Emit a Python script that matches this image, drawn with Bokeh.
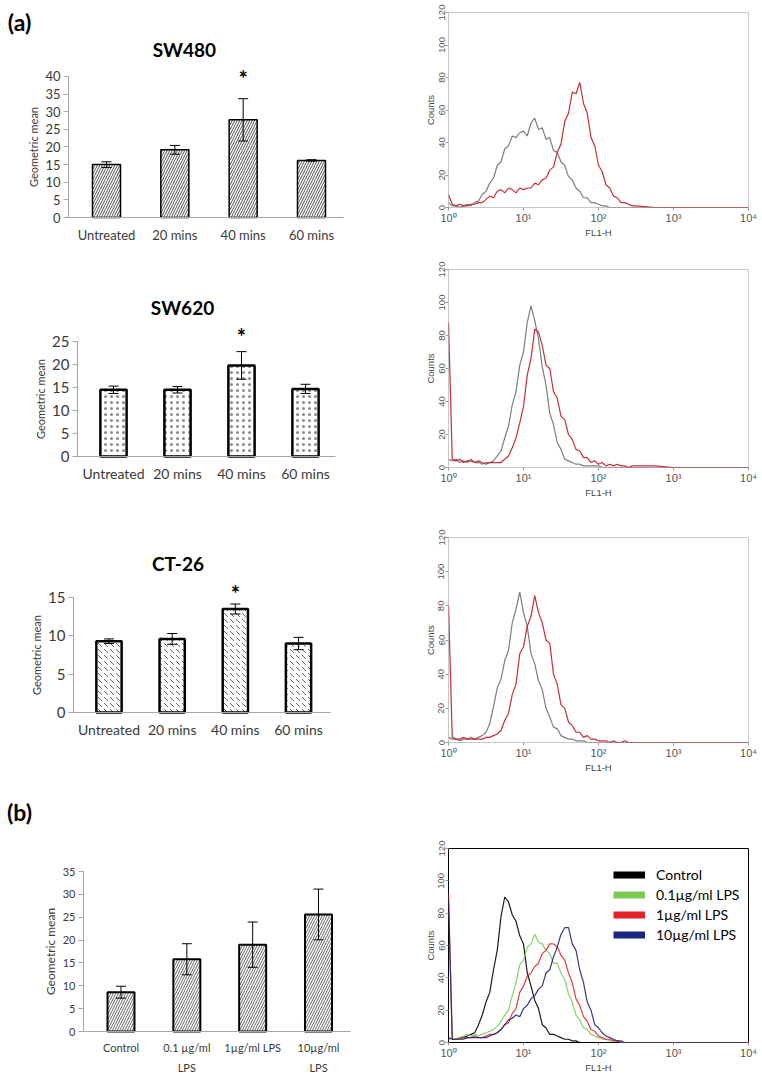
from bokeh.plotting import figure
from bokeh.models import Range1d, FixedTicker, ColumnDataSource, Whisker, TeeHead, Legend, LegendItem
from bokeh.layouts import row, column
from bokeh.embed import file_html
from bokeh.resources import INLINE
from bokeh.core.properties import value

# ---------------- data ----------------
TIME_CATS = ["Untreated", "20 mins", "40 mins", "60 mins"]
SW480_MEAN = [15.0, 19.2, 27.7, 16.2]
SW480_ERR = [0.8, 1.25, 6.0, 0.2]
SW620_MEAN = [14.5, 14.5, 19.8, 14.7]
SW620_ERR = [0.8, 0.7, 3.0, 1.0]
CT26_MEAN = [9.3, 9.6, 13.5, 9.0]
CT26_ERR = [0.3, 0.7, 0.65, 0.8]
LPS_CATS = ["Control", "0.1 µg/ml\nLPS", "1µg/ml LPS", "10µg/ml\nLPS"]
LPS_MEAN = [8.6, 15.8, 19.0, 25.6]
LPS_ERR = [1.3, 3.4, 4.95, 5.55]
SIG_IDX = 2  # "*" marks the 40 mins bar

# flow cytometry histograms: log10(FL1-H) channel positions and counts
FL1_LOG = [0.00, 0.05, 0.10, 0.15, 0.20, 0.25, 0.30, 0.35, 0.40, 0.45,
           0.50, 0.55, 0.60, 0.65, 0.70, 0.75, 0.80, 0.85, 0.90, 0.95,
           1.00, 1.05, 1.10, 1.15, 1.20, 1.25, 1.30, 1.35, 1.40, 1.45,
           1.50, 1.55, 1.60, 1.65, 1.70, 1.75, 1.80, 1.85, 1.90, 1.95,
           2.00, 2.05, 2.10, 2.15, 2.20, 2.25, 2.30, 2.35, 2.40, 2.45, 2.50,
           2.75, 3.00, 3.50, 4.00]
SW480_CTRL = [3, 1, 1, 0, 1, 2, 1, 3, 4, 8,
              10, 15, 18, 26, 28, 36, 38, 44, 43, 46,
              47, 44, 52, 55, 48, 49, 42, 43, 35, 34,
              28, 26, 19, 17, 12, 10, 6, 6, 3, 3,
              2, 1, 1, 0, 0, 0, 0, 0, 0, 0, 0,
              0, 0, 0, 0]
SW480_TREAT = [8, 2, 1, 2, 1, 1, 2, 2, 3, 3,
               5, 7, 6, 10, 11, 9, 12, 11, 9, 12,
               11, 12, 12, 15, 14, 17, 18, 23, 25, 34,
               39, 53, 58, 71, 70, 77, 64, 58, 43, 38,
               26, 22, 14, 12, 7, 6, 3, 3, 2, 1, 1,
               0, 0, 0, 0]
SW620_CTRL = [5, 4, 5, 3, 4, 3, 5, 3, 3, 2,
              3, 3, 4, 7, 10, 18, 25, 38, 46, 62,
              70, 88, 98, 89, 78, 61, 50, 33, 26, 15,
              11, 5, 4, 3, 2, 2, 1, 1, 1, 1,
              1, 0, 0, 0, 0, 0, 0, 0, 0, 0, 0,
              0, 0, 0, 0]
SW620_TREAT = [88, 5, 4, 5, 3, 4, 4, 3, 4, 3,
               2, 3, 3, 3, 3, 5, 7, 12, 18, 27,
               37, 56, 66, 84, 82, 74, 62, 60, 46, 42,
               31, 29, 20, 17, 11, 10, 6, 6, 3, 4,
               2, 3, 1, 2, 1, 2, 1, 1, 0, 1, 1,
               1, 0, 0, 0]
CT26_CTRL = [3, 2, 2, 1, 2, 2, 3, 2, 3, 4,
             6, 11, 21, 32, 37, 48, 54, 70, 78, 88,
             76, 68, 52, 46, 36, 31, 20, 15, 9, 8,
             4, 3, 2, 2, 1, 1, 1, 0, 0, 0,
             0, 0, 0, 0, 0, 0, 0, 0, 0, 0, 0,
             0, 0, 0, 0]
CT26_TREAT = [80, 3, 2, 2, 3, 2, 2, 2, 2, 2,
              3, 3, 4, 5, 7, 13, 17, 28, 34, 52,
              56, 68, 74, 86, 76, 70, 60, 58, 40, 34,
              22, 20, 12, 10, 6, 6, 3, 4, 2, 2,
              1, 1, 1, 0, 1, 0, 0, 1, 0, 0, 0,
              0, 0, 0, 0]
LPS_CTRL = [3, 2, 2, 3, 3, 4, 5, 6, 11, 17,
            25, 31, 45, 57, 78, 90, 87, 79, 75, 66,
            61, 43, 35, 26, 21, 11, 9, 5, 5, 4,
            3, 2, 2, 1, 1, 0, 0, 0, 0, 0,
            0, 0, 0, 0, 0, 0, 0, 0, 0, 0, 0,
            0, 0, 0, 0]
LPS_01 = [2, 2, 2, 3, 4, 5, 4, 5, 4, 5,
          6, 7, 8, 10, 13, 17, 20, 29, 37, 48,
          51, 59, 61, 67, 62, 61, 57, 55, 49, 49,
          43, 39, 30, 25, 17, 14, 9, 8, 5, 4,
          3, 2, 2, 1, 1, 1, 0, 0, 0, 0, 0,
          0, 0, 0, 0]
LPS_1 = [92, 2, 2, 2, 3, 3, 3, 4, 3, 3,
         4, 5, 5, 6, 8, 11, 12, 18, 21, 31,
         35, 41, 43, 47, 49, 55, 57, 61, 61, 59,
         54, 51, 43, 37, 27, 23, 16, 13, 8, 7,
         4, 3, 2, 2, 1, 1, 0, 0, 0, 0, 0,
         0, 0, 0, 0]
LPS_10 = [88, 2, 2, 2, 2, 3, 3, 3, 3, 3,
          3, 4, 5, 6, 8, 11, 14, 15, 17, 16,
          21, 23, 27, 29, 33, 35, 43, 45, 53, 59,
          67, 71, 71, 61, 57, 45, 37, 25, 20, 11,
          9, 6, 4, 3, 2, 1, 1, 0, 0, 0, 0,
          0, 0, 0, 0]
LPS_LEGEND = ["Control", "0.1µg/ml LPS", "1µg/ml LPS", "10µg/ml LPS"]
DECADE_LABELS = ["10⁰", "10¹", "10²", "10³", "10⁴"]
COUNT_TICKS = [0, 20, 40, 60, 80, 100, 120]

BAR_FONT = "Lato"
HIST_FONT = "Liberation Sans"
LEFT_W = 368
RIGHT_W = 394


def bar_chart(cats, mean, err, *, height, xr, yr, yaxis_x, xaxis_end, ymax, ystep,
              hatch, hscale, hweight, hcolor, lw, bar_w, tick_fs, xlab_fs, lab_fs,
              title=None, title_xy=None, star_y=None, panel_label=None, panel_xy=None):
    p = figure(width=LEFT_W, height=height, x_range=Range1d(*xr), y_range=Range1d(*yr),
               output_backend="svg", toolbar_location=None,
               min_border_left=0, min_border_right=0, min_border_top=0, min_border_bottom=0)
    p.outline_line_color = None
    p.grid.visible = False
    p.background_fill_color = None
    p.border_fill_color = None
    xs = list(range(len(cats)))
    src = ColumnDataSource(dict(x=xs, top=mean,
                                upper=[m + e for m, e in zip(mean, err)],
                                lower=[m - e for m, e in zip(mean, err)]))
    p.vbar(x="x", top="top", width=bar_w, source=src, fill_color="white",
           line_color="black", line_width=lw, hatch_pattern=hatch,
           hatch_color=hcolor, hatch_scale=hscale, hatch_weight=hweight)
    wk = Whisker(base="x", upper="upper", lower="lower", source=src,
                 line_color="black", line_width=1, level="overlay",
                 upper_head=TeeHead(size=10, line_color="black", line_width=1),
                 lower_head=TeeHead(size=10, line_color="black", line_width=1))
    p.add_layout(wk)

    p.xaxis.fixed_location = 0
    p.xaxis.bounds = (yaxis_x, xaxis_end)
    p.xaxis.ticker = FixedTicker(ticks=xs)
    p.xaxis.major_label_overrides = {i: c for i, c in enumerate(cats)}
    p.xaxis.major_tick_line_color = None
    p.xaxis.major_tick_out = 0
    p.xaxis.major_tick_in = 0
    p.xaxis.minor_tick_line_color = None
    p.xaxis.axis_line_color = "#a6a6a6"
    p.xaxis.major_label_standoff = 9
    p.xaxis.major_label_text_font_size = xlab_fs
    p.xaxis.major_label_text_line_height = 1.55

    p.yaxis.fixed_location = yaxis_x
    p.yaxis.ticker = FixedTicker(ticks=list(range(0, ymax + 1, ystep)))
    p.yaxis.bounds = (0, ymax)
    p.yaxis.axis_line_color = "#a6a6a6"
    p.yaxis.major_tick_line_color = "#a6a6a6"
    p.yaxis.major_tick_in = 0
    p.yaxis.major_tick_out = 5
    p.yaxis.minor_tick_line_color = None
    p.yaxis.major_label_text_font_size = tick_fs
    p.yaxis.major_label_standoff = 3
    p.yaxis.axis_label = "Geometric mean"
    p.yaxis.axis_label_text_font_size = lab_fs
    p.yaxis.axis_label_text_font_style = "normal"
    p.yaxis.axis_label_standoff = 2
    for ax in (p.xaxis, p.yaxis):
        ax.major_label_text_font = BAR_FONT
        ax.major_label_text_color = "#3a3a3a"
        ax.axis_label_text_font = BAR_FONT
        ax.axis_label_text_color = "#3a3a3a"

    if title:
        p.text(x=[title_xy[0]], y=[title_xy[1]], text=[title], text_font=value(BAR_FONT),
               text_font_size="19px", text_font_style="bold", text_align="center",
               text_baseline="middle", text_color="black")
    if star_y is not None:
        p.text(x=[SIG_IDX], y=[star_y], text=["*"], text_font=value(BAR_FONT),
               text_font_size="22px", text_font_style="bold", text_align="center",
               text_baseline="middle", y_offset=6, text_color="black")
    if panel_label:
        p.text(x=[panel_xy[0]], y=[panel_xy[1]], text=[panel_label], text_font=value(BAR_FONT),
               text_font_size="23px", text_font_style="bold", text_align="center",
               text_baseline="middle", text_color="black")
    return p


def hist_chart(curves, colors, *, height, top, bottom, outline="#c8c8c8", lw=1.2):
    p = figure(width=RIGHT_W, height=height, x_range=Range1d(0, 4), y_range=Range1d(0, 120),
               output_backend="svg", toolbar_location=None,
               min_border_left=80, min_border_right=14,
               min_border_top=top, min_border_bottom=bottom)
    p.grid.visible = False
    p.outline_line_color = outline
    p.outline_line_width = 1
    p.border_fill_color = None
    for ys, c in zip(curves, colors):
        p.line(FL1_LOG, ys, line_color=c, line_width=lw, line_alpha=0.9)
    p.xaxis.ticker = FixedTicker(ticks=list(range(len(DECADE_LABELS))))
    p.xaxis.major_label_overrides = {i: t for i, t in enumerate(DECADE_LABELS)}
    p.yaxis.ticker = FixedTicker(ticks=COUNT_TICKS)
    p.yaxis.major_label_orientation = "vertical"
    p.axis.axis_line_color = None
    p.axis.major_tick_line_color = "#9a9a9a"
    p.axis.major_tick_in = 0
    p.axis.major_tick_out = 3
    p.axis.minor_tick_line_color = None
    p.axis.major_label_text_font = HIST_FONT
    p.axis.major_label_text_font_size = "9.5px"
    p.xaxis.major_label_text_font_size = "11px"
    p.axis.major_label_text_color = "#555555"
    p.axis.major_label_standoff = 1
    p.axis.axis_label_text_font = HIST_FONT
    p.axis.axis_label_text_font_size = "9.5px"
    p.axis.axis_label_text_font_style = "normal"
    p.axis.axis_label_text_color = "#444444"
    p.axis.axis_label_standoff = 0
    p.xaxis.axis_label = "FL1-H"
    p.yaxis.axis_label = "Counts"
    return p


GRAY = "#6f6f6f"
RED = "#c0181f"

# ---------- left column: bar charts ----------
L1 = bar_chart(TIME_CATS, SW480_MEAN, SW480_ERR, height=255,
               xr=(-1.5513, 3.8343), yr=(-10.78, 61.56), yaxis_x=-0.556, xaxis_end=3.4685,
               ymax=40, ystep=5, hatch="/", hscale=5, hweight=0.8, hcolor="#222222",
               lw=1.5, bar_w=0.41, tick_fs="13px", xlab_fs="13px", lab_fs="11px",
               title="SW480", title_xy=(1.14, 47.66), star_y=41.1,
               panel_label="(a)", panel_xy=(-1.273, 55.6))
L2 = bar_chart(TIME_CATS, SW620_MEAN, SW620_ERR, height=260,
               xr=(-1.7656, 3.9844), yr=(-12.83, 43.70), yaxis_x=-0.5625, xaxis_end=3.469,
               ymax=25, ystep=5, hatch=".", hscale=6, hweight=0.3, hcolor="#8a8a8a",
               lw=2.5, bar_w=0.41, tick_fs="15px", xlab_fs="14px", lab_fs="11px",
               title="SW620", title_xy=(1.078, 32.5), star_y=27.4)
L3 = bar_chart(TIME_CATS, CT26_MEAN, CT26_ERR, height=260,
               xr=(-1.7176, 4.1080), yr=(-8.22, 25.70), yaxis_x=-0.562, xaxis_end=3.506,
               ymax=15, ystep=5, hatch="`", hscale=6, hweight=0.8, hcolor="#333333",
               lw=2.5, bar_w=0.40, tick_fs="15px", xlab_fs="14px", lab_fs="11px",
               title="CT-26", title_xy=(1.092, 19.43), star_y=16.3)
L4 = bar_chart(LPS_CATS, LPS_MEAN, LPS_ERR, height=300,
               xr=(-1.8305, 3.7597), yr=(-9.625, 56.0), yaxis_x=-0.5696, xaxis_end=3.486,
               ymax=35, ystep=5, hatch="/", hscale=5, hweight=0.7, hcolor="#222222",
               lw=2, bar_w=0.41, tick_fs="11px", xlab_fs="11px", lab_fs="12px",
               panel_label="(b)", panel_xy=(-1.542, 48.1))

# ---------- right column: histograms ----------
H1 = hist_chart([SW480_CTRL, SW480_TREAT], [GRAY, RED], height=245, top=12, bottom=38)
H2 = hist_chart([SW620_CTRL, SW620_TREAT], [GRAY, RED], height=255, top=24, bottom=30)
H3 = hist_chart([CT26_CTRL, CT26_TREAT], [GRAY, RED], height=275, top=37, bottom=30)
LPS_COLORS = ["black", "#7dcc52", "#e8222a", "#1b2680"]
LPS_SERIES = [LPS_CTRL, LPS_01, LPS_1, LPS_10]
H4 = hist_chart(LPS_SERIES, LPS_COLORS, height=300, top=73, bottom=29, outline="black")
# thick legend swatches: same series on an off-screen range so only the legend shows them
H4.extra_y_ranges = {"legend_only": Range1d(1000, 2000)}
items = []
for lab, c, ys in zip(LPS_LEGEND, LPS_COLORS, LPS_SERIES):
    r = H4.line(FL1_LOG, ys, y_range_name="legend_only", line_color=c, line_width=7)
    items.append(LegendItem(label=value(lab), renderers=[r]))
leg = Legend(items=items, location=(165, 99), border_line_color=None,
             background_fill_alpha=0, padding=0, margin=0, spacing=3,
             glyph_width=32, glyph_height=17, label_height=17, label_standoff=11,
             label_text_font=BAR_FONT, label_text_font_size="14px", label_text_color="black")
H4.add_layout(leg)

layout = row(column(L1, L2, L3, L4), column(H1, H2, H3, H4))
open("out.html", "w").write(file_html(layout, INLINE))
